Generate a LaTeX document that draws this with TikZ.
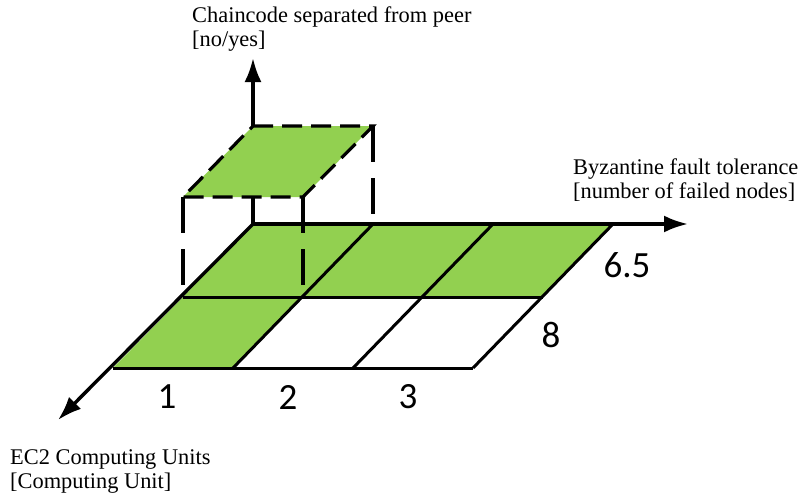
\documentclass[tikz,border=0pt]{standalone}
\usepackage{fontspec}
\setmainfont{Liberation Serif}
\newfontfamily\tickfont{Carlito}
\usetikzlibrary{arrows.meta}
\definecolor{cellgreen}{HTML}{92D050}

\begin{document}
\begin{tikzpicture}[x=1pt, y=-1pt,
    axis/.style={line width=3.4pt, -{Latex[length=24pt,width=17pt]}},
    gridline/.style={line width=3pt},
    cell/.style={fill=cellgreen},
    raisedline/.style={line width=3.2pt, dash pattern=on 20pt off 9pt},
    dropline/.style={line width=3.2pt, dash pattern=on 36pt off 16pt},
    axislabel/.style={font=\fontsize{22.4}{24}\selectfont, align=left,
      anchor=north west, inner sep=0pt},
    ticklabel/.style={font=\tickfont\fontsize{37}{40}\selectfont, inner sep=0pt}
  ]
    \useasboundingbox (0,0) rectangle (798,493);

    % grid corners, back to front
    \coordinate (b0) at (253,224);
    \coordinate (b1) at (373,224);
    \coordinate (b2) at (493,224);
    \coordinate (b3) at (613,224);
    \coordinate (m0) at (183,297);
    \coordinate (m1) at (303,297);
    \coordinate (m2) at (423,297);
    \coordinate (m3) at (543,297);
    \coordinate (f0) at (113,368);
    \coordinate (f1) at (233,368);
    \coordinate (f2) at (353,368);
    \coordinate (f3) at (473,368);
    % lifted cell
    \coordinate (r0) at (253,126);
    \coordinate (r1) at (373,126);
    \coordinate (s0) at (183,197);
    \coordinate (s1) at (303,197);
    % axis ends
    \coordinate (xend) at (688,224);
    \coordinate (yend) at (253,58);
    \coordinate (zend) at (58,420);

    \fill[cell] (b0) -- (b3) -- (m3) -- (m0) -- cycle;
    \fill[cell] (m0) -- (m1) -- (f1) -- (f0) -- cycle;

    \draw[gridline] (m0) -- (m3);
    \draw[gridline] (f0) -- (f3);
    \draw[gridline] (b1) -- (f1);
    \draw[gridline] (b2) -- (f2);
    \draw[gridline] (b3) -- (f3);

    \draw[axis] (b0) -- (xend);
    \draw[axis] (b0) -- (yend);
    \draw[axis] (b0) -- (zend);

    \fill[cell] (r0) -- (r1) -- (s1) -- (s0) -- cycle;
    \draw[raisedline] (r0) -- (r1) -- (s1) -- (s0) -- cycle;
    \draw[dropline] (r1) -- (b1);
    \draw[dropline] (s0) -- (m0);
    \draw[dropline] (s1) -- (m1);

    \node[axislabel] (ylabel) at (192,7)
      {Chaincode separated from peer\\{[no/yes]}};
    \node[axislabel] (xlabel) at (573,159)
      {Byzantine fault tolerance\\{[number of failed nodes]}};
    \node[axislabel] (zlabel) at (10,449)
      {EC2 Computing Units\\{[Computing Unit]}};

    \node[ticklabel] (tick1) at (167,397) {1};
    \node[ticklabel] (tick2) at (288,397) {2};
    \node[ticklabel] (tick3) at (408,397) {3};
    \node[ticklabel] (tickb) at (627,265) {6.5};
    \node[ticklabel] (tickm) at (551,335) {8};
  \end{tikzpicture}
\end{document}
